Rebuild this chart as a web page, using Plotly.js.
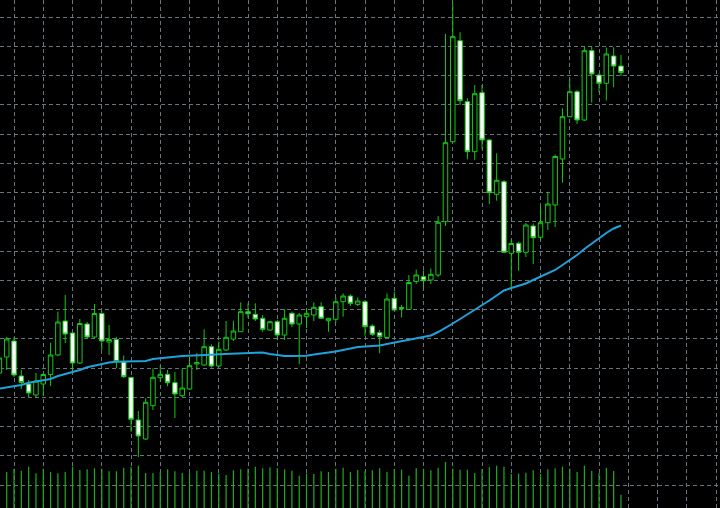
<!DOCTYPE html>
<html>
<head>
<meta charset="utf-8">
<script src="https://cdn.plot.ly/plotly-3.0.1.min.js"></script>
<style>html,body{margin:0;padding:0;background:#000;}#chart{width:720px;height:508px;}</style>
</head>
<body>
<div id="chart"></div>
<script>
// Bar numbers (one per candle)
const bars = Array.from({length: 86}, (_, i) => i);

const open = [1.31270,1.31430,1.31590,1.31240,1.31160,1.31050,1.31160,1.31255,1.31450,1.31790,
1.31670,1.31370,1.31760,1.31630,1.31865,1.31580,1.31605,1.31380,1.31225,1.30800,
1.30610,1.30943,1.31223,1.31257,1.31173,1.31043,1.31110,1.31360,1.31350,1.31533,
1.31340,1.31500,1.31610,1.31683,1.31883,1.31857,1.31817,1.31700,1.31783,1.31650,
1.31867,1.31760,1.31833,1.31850,1.31933,1.31793,1.31807,1.31983,1.32040,1.31957,
1.31983,1.31740,1.31673,1.31625,1.32017,1.31915,1.31907,1.32185,1.32233,1.32200,
1.32250,1.32783,1.33583,1.34593,1.33983,1.33483,1.34073,1.33600,1.33057,1.33183,
1.32467,1.32567,1.32477,1.32740,1.32627,1.32773,1.32950,1.33410,1.33833,1.34083,
1.33800,1.34493,1.34250,1.34167,1.34440,1.34340];

const high = [1.31440,1.31630,1.31630,1.31300,1.31200,1.31270,1.31270,1.31573,1.31883,1.32050,
1.31680,1.31810,1.31780,1.31960,1.31883,1.31750,1.31630,1.31445,1.31235,1.30890,
1.31017,1.31317,1.31350,1.31300,1.31280,1.31317,1.31427,1.31470,1.31707,1.31557,
1.31583,1.31790,1.31793,1.31977,1.31967,1.31967,1.31850,1.31790,1.31800,1.31907,
1.31883,1.31870,1.31920,1.31977,1.31977,1.31820,1.32027,1.32067,1.32057,1.32025,
1.32000,1.31757,1.31700,1.32065,1.32083,1.31950,1.32250,1.32305,1.32295,1.32315,
1.32840,1.34660,1.34973,1.34677,1.34017,1.34150,1.34150,1.33610,1.33467,1.33200,
1.32607,1.32583,1.32770,1.32765,1.32940,1.33083,1.33457,1.33917,1.34213,1.34100,
1.34540,1.34533,1.34265,1.34525,1.34527,1.34450];

const low = [1.31250,1.31300,1.31230,1.31110,1.31030,1.31020,1.31040,1.31140,1.31440,1.31570,
1.31270,1.31360,1.31620,1.31620,1.31500,1.31450,1.31320,1.31220,1.30683,1.30430,
1.30600,1.30900,1.31180,1.31137,1.30820,1.31030,1.31100,1.31300,1.31340,1.31325,
1.31330,1.31490,1.31590,1.31680,1.31820,1.31790,1.31683,1.31695,1.31600,1.31600,
1.31730,1.31360,1.31720,1.31790,1.31810,1.31683,1.31770,1.31833,1.31940,1.31940,
1.31643,1.31640,1.31467,1.31620,1.31890,1.31825,1.31900,1.32160,1.32110,1.32160,
1.32230,1.32740,1.33580,1.33950,1.33407,1.33400,1.33507,1.32960,1.32993,1.32470,
1.32117,1.32293,1.32430,1.32360,1.32600,1.32700,1.32730,1.33173,1.33830,1.33760,
1.33790,1.33973,1.34075,1.33995,1.34127,1.34240];

const close = [1.31420,1.31610,1.31250,1.31175,1.31070,1.31190,1.31255,1.31450,1.31780,1.31660,
1.31370,1.31765,1.31630,1.31865,1.31590,1.31605,1.31385,1.31233,1.30807,1.30640,
1.30977,1.31227,1.31257,1.31173,1.31060,1.31120,1.31343,1.31375,1.31533,1.31340,
1.31507,1.31627,1.31690,1.31883,1.31863,1.31810,1.31707,1.31783,1.31650,1.31817,
1.31760,1.31850,1.31867,1.31927,1.31817,1.31817,1.31983,1.32040,1.31967,1.31990,
1.31733,1.31657,1.31633,1.32010,1.31900,1.31925,1.32175,1.32250,1.32193,1.32257,
1.32777,1.33573,1.34633,1.33993,1.33483,1.34063,1.33600,1.33073,1.33197,1.32477,
1.32565,1.32477,1.32750,1.32623,1.32773,1.32960,1.33435,1.33833,1.34083,1.33800,
1.34493,1.34260,1.34167,1.34460,1.34340,1.34275];

const movingAverage = [1.31115,1.31125,1.31135,1.31150,1.31173,1.31185,1.31195,1.31210,1.31240,1.31260,
1.31275,1.31300,1.31327,1.31345,1.31360,1.31375,1.31383,1.31385,1.31385,1.31385,
1.31390,1.31410,1.31420,1.31430,1.31433,1.31440,1.31445,1.31447,1.31450,1.31453,
1.31457,1.31460,1.31467,1.31470,1.31475,1.31475,1.31475,1.31460,1.31450,1.31440,
1.31440,1.31440,1.31443,1.31455,1.31465,1.31470,1.31485,1.31500,1.31515,1.31530,
1.31535,1.31540,1.31545,1.31560,1.31575,1.31590,1.31600,1.31620,1.31635,1.31645,
1.31680,1.31720,1.31765,1.31810,1.31855,1.31900,1.31945,1.31995,1.32045,1.32095,
1.32120,1.32140,1.32165,1.32200,1.32235,1.32270,1.32300,1.32350,1.32400,1.32450,
1.32510,1.32565,1.32615,1.32670,1.32715,1.32745];

const volume = [3700,3600,3930,3730,4130,3470,3930,3600,3470,3600,
4130,3800,3870,3970,3930,3670,3670,4030,4130,4230,
3500,3500,3600,3870,3670,3500,3500,3730,3730,3600,
3430,3300,3770,3870,3930,4130,3970,4070,3970,3870,
3730,3230,3430,3400,3670,3600,3930,4030,3600,3800,
3700,3770,3970,3600,3900,3830,3230,3970,3930,3770,
4030,4600,3930,3830,3830,3500,3900,4070,4230,4130,
3430,3430,3530,3770,3400,3870,3970,4130,3930,3600,
4230,3700,3500,4030,3700,1330];

const candleLine = '#14c814';
const gridColor = '#67737f';

const traces = [
  {
    type: 'bar', x: bars, y: volume, yaxis: 'y2',
    marker: {color: '#1ea81e', line: {width: 0}}, width: 0.17,
    hoverinfo: 'skip'
  },
  {
    type: 'candlestick', x: bars, open: open, high: high, low: low, close: close,
    increasing: {line: {color: candleLine, width: 1}, fillcolor: '#000000'},
    decreasing: {line: {color: candleLine, width: 1}, fillcolor: '#ffffff'},
    whiskerwidth: 0, hoverinfo: 'skip'
  },
  {
    type: 'scatter', mode: 'lines', x: bars, y: movingAverage,
    line: {color: '#1ea2dc', width: 2}, hoverinfo: 'skip'
  }
];

const layout = {
  width: 720, height: 508,
  margin: {l: 0, r: 0, t: 0, b: 0, pad: 0},
  paper_bgcolor: '#000000', plot_bgcolor: '#000000',
  showlegend: false,
  boxgap: 0.12, boxgroupgap: 0.3,
  xaxis: {
    range: [0.0821, 98.543], rangeslider: {visible: false},
    showticklabels: false, ticks: '', zeroline: false, showline: false,
    tickmode: 'linear', tick0: 2, dtick: 4,
    showgrid: true, gridcolor: gridColor, gridwidth: 1, griddash: '4px,3px'
  },
  yaxis: {
    range: [1.2992, 1.35],
    showticklabels: false, ticks: '', zeroline: false, showline: false,
    tickmode: 'linear', tick0: 1.34828, dtick: 0.002925,
    showgrid: true, gridcolor: gridColor, gridwidth: 1, griddash: '4px,3px'
  },
  yaxis2: {
    range: [0, 50800], overlaying: 'y', side: 'right',
    showticklabels: false, ticks: '', zeroline: false, showgrid: false, showline: false
  }
};

Plotly.newPlot('chart', traces, layout, {staticPlot: true, displayModeBar: false});
</script>
</body>
</html>
